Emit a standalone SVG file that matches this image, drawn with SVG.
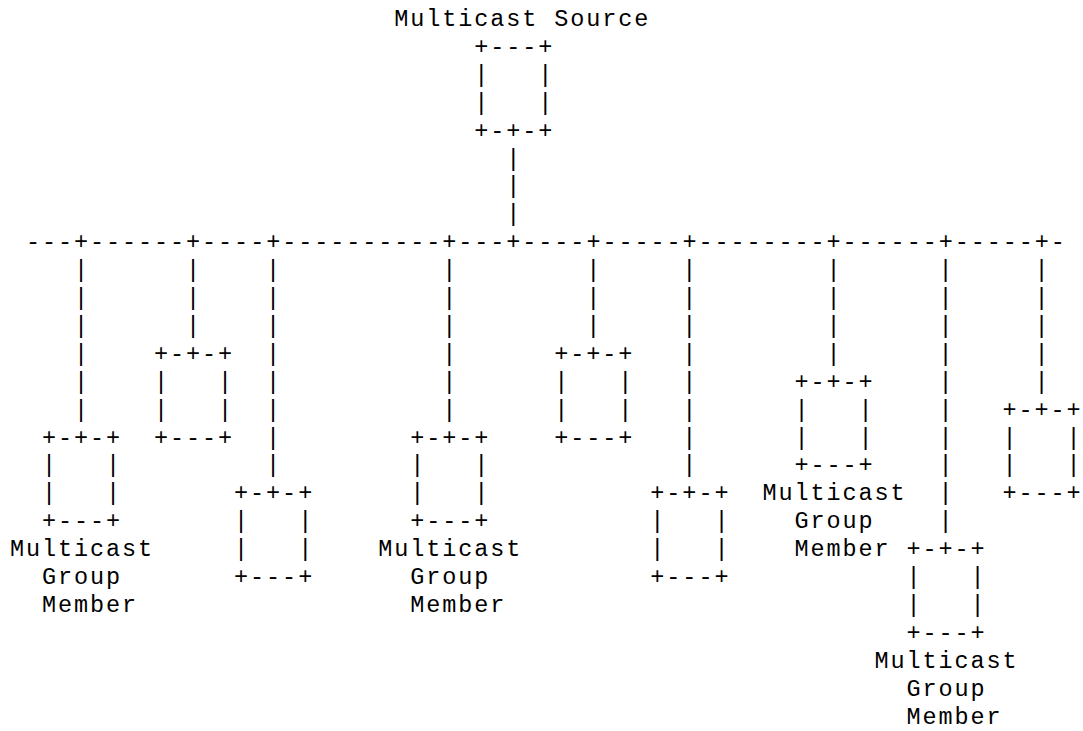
<svg xmlns="http://www.w3.org/2000/svg" width="1083" height="731" viewBox="0 0 1083 731" xml:space="preserve">
<style>
  .t { font-family: "Liberation Mono", "DejaVu Sans Mono", monospace; font-size: 23.5px; letter-spacing: 1.91px; fill: #000; white-space: pre; }
</style>
<rect width="1083" height="731" fill="#fff"/>
<!-- character grid: column c at x = 9.95 + 16.01*c, row n baseline at y = 26 + 27.9*n -->

<g id="connectors">
  <text class="t" x="506.26" y="165.5">|<tspan x="506.26" y="193.4">|</tspan><tspan x="506.26" y="221.3">|</tspan></text>
  <text class="t" x="25.96" y="249.2">---+------+----+----------+---+----+-----+--------+------+-----+-</text>
  <text class="t" x="73.99" y="277.1">|<tspan x="73.99" y="305">|</tspan><tspan x="73.99" y="332.9">|</tspan><tspan x="73.99" y="360.8">|</tspan><tspan x="73.99" y="388.7">|</tspan><tspan x="73.99" y="416.6">|</tspan></text>
  <text class="t" x="186.06" y="277.1">|<tspan x="186.06" y="305">|</tspan><tspan x="186.06" y="332.9">|</tspan></text>
  <text class="t" x="266.11" y="277.1">|<tspan x="266.11" y="305">|</tspan><tspan x="266.11" y="332.9">|</tspan><tspan x="266.11" y="360.8">|</tspan><tspan x="266.11" y="388.7">|</tspan><tspan x="266.11" y="416.6">|</tspan><tspan x="266.11" y="444.5">|</tspan><tspan x="266.11" y="472.4">|</tspan></text>
  <text class="t" x="442.22" y="277.1">|<tspan x="442.22" y="305">|</tspan><tspan x="442.22" y="332.9">|</tspan><tspan x="442.22" y="360.8">|</tspan><tspan x="442.22" y="388.7">|</tspan><tspan x="442.22" y="416.6">|</tspan></text>
  <text class="t" x="586.31" y="277.1">|<tspan x="586.31" y="305">|</tspan><tspan x="586.31" y="332.9">|</tspan></text>
  <text class="t" x="682.37" y="277.1">|<tspan x="682.37" y="305">|</tspan><tspan x="682.37" y="332.9">|</tspan><tspan x="682.37" y="360.8">|</tspan><tspan x="682.37" y="388.7">|</tspan><tspan x="682.37" y="416.6">|</tspan><tspan x="682.37" y="444.5">|</tspan><tspan x="682.37" y="472.4">|</tspan></text>
  <text class="t" x="826.46" y="277.1">|<tspan x="826.46" y="305">|</tspan><tspan x="826.46" y="332.9">|</tspan><tspan x="826.46" y="360.8">|</tspan></text>
  <text class="t" x="938.53" y="277.1">|<tspan x="938.53" y="305">|</tspan><tspan x="938.53" y="332.9">|</tspan><tspan x="938.53" y="360.8">|</tspan><tspan x="938.53" y="388.7">|</tspan><tspan x="938.53" y="416.6">|</tspan><tspan x="938.53" y="444.5">|</tspan><tspan x="938.53" y="472.4">|</tspan><tspan x="938.53" y="500.3">|</tspan><tspan x="938.53" y="528.2">|</tspan></text>
  <text class="t" x="1034.59" y="277.1">|<tspan x="1034.59" y="305">|</tspan><tspan x="1034.59" y="332.9">|</tspan><tspan x="1034.59" y="360.8">|</tspan><tspan x="1034.59" y="388.7">|</tspan></text>
</g>

<g id="source">
  <text class="t" x="394.19" y="26">Multicast Source</text>
  <text class="t" x="474.24" y="53.9">+---+<tspan x="474.24" y="81.8">|   |</tspan><tspan x="474.24" y="109.7">|   |</tspan><tspan x="474.24" y="137.6">+-+-+</tspan></text>
</g>

<g id="member-1">
  <text class="t" x="41.97" y="444.5">+-+-+<tspan x="41.97" y="472.4">|   |</tspan><tspan x="41.97" y="500.3">|   |</tspan><tspan x="41.97" y="528.2">+---+</tspan></text>
  <text class="t" x="9.95" y="556.1">Multicast</text>
  <text class="t" x="41.97" y="584">Group</text>
  <text class="t" x="41.97" y="611.9">Member</text>
</g>

<g id="host-2">
  <text class="t" x="154.04" y="360.8">+-+-+<tspan x="154.04" y="388.7">|   |</tspan><tspan x="154.04" y="416.6">|   |</tspan><tspan x="154.04" y="444.5">+---+</tspan></text>
</g>

<g id="host-3">
  <text class="t" x="234.09" y="500.3">+-+-+<tspan x="234.09" y="528.2">|   |</tspan><tspan x="234.09" y="556.1">|   |</tspan><tspan x="234.09" y="584">+---+</tspan></text>
</g>

<g id="member-4">
  <text class="t" x="410.2" y="444.5">+-+-+<tspan x="410.2" y="472.4">|   |</tspan><tspan x="410.2" y="500.3">|   |</tspan><tspan x="410.2" y="528.2">+---+</tspan></text>
  <text class="t" x="378.18" y="556.1">Multicast</text>
  <text class="t" x="410.2" y="584">Group</text>
  <text class="t" x="410.2" y="611.9">Member</text>
</g>

<g id="host-5">
  <text class="t" x="554.29" y="360.8">+-+-+<tspan x="554.29" y="388.7">|   |</tspan><tspan x="554.29" y="416.6">|   |</tspan><tspan x="554.29" y="444.5">+---+</tspan></text>
</g>

<g id="host-6">
  <text class="t" x="650.35" y="500.3">+-+-+<tspan x="650.35" y="528.2">|   |</tspan><tspan x="650.35" y="556.1">|   |</tspan><tspan x="650.35" y="584">+---+</tspan></text>
</g>

<g id="member-7">
  <text class="t" x="794.44" y="388.7">+-+-+<tspan x="794.44" y="416.6">|   |</tspan><tspan x="794.44" y="444.5">|   |</tspan><tspan x="794.44" y="472.4">+---+</tspan></text>
  <text class="t" x="762.42" y="500.3">Multicast</text>
  <text class="t" x="794.44" y="528.2">Group</text>
  <text class="t" x="794.44" y="556.1">Member</text>
</g>

<g id="member-8">
  <text class="t" x="906.51" y="556.1">+-+-+<tspan x="906.51" y="584">|   |</tspan><tspan x="906.51" y="611.9">|   |</tspan><tspan x="906.51" y="639.8">+---+</tspan></text>
  <text class="t" x="874.49" y="667.7">Multicast</text>
  <text class="t" x="906.51" y="695.6">Group</text>
  <text class="t" x="906.51" y="723.5">Member</text>
</g>

<g id="host-9">
  <text class="t" x="1002.57" y="416.6">+-+-+<tspan x="1002.57" y="444.5">|   |</tspan><tspan x="1002.57" y="472.4">|   |</tspan><tspan x="1002.57" y="500.3">+---+</tspan></text>
</g>
</svg>
